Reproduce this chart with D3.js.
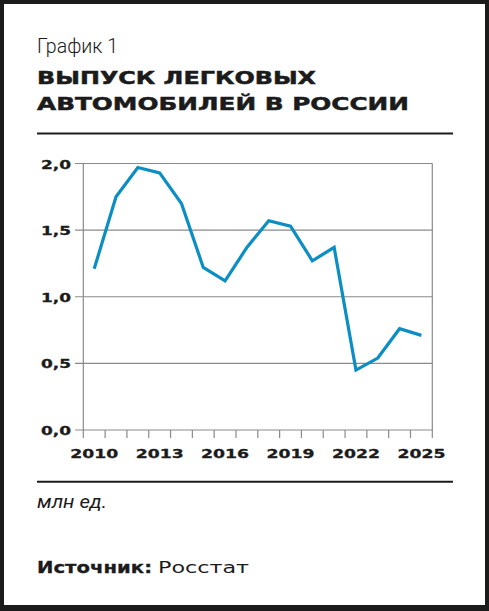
<!DOCTYPE html>
<html>
<head>
<meta charset="utf-8">
<script src="https://cdn.jsdelivr.net/npm/d3@7"></script>
<style>
  html, body { margin: 0; padding: 0; background: #1a1a1a; }
  svg { display: block; }
</style>
</head>
<body>
<script>
const years = [2010, 2011, 2012, 2013, 2014, 2015, 2016, 2017, 2018, 2019, 2020, 2021, 2022, 2023, 2024, 2025];
const production = [1.21, 1.75, 1.97, 1.93, 1.70, 1.22, 1.12, 1.37, 1.57, 1.53, 1.27, 1.37, 0.45, 0.54, 0.76, 0.71];
const yTicks = [0, 0.5, 1.0, 1.5, 2.0];
const xLabelYears = [2010, 2013, 2016, 2019, 2022, 2025];
const chartLabel = "График 1";
const titleLines = ["ВЫПУСК ЛЕГКОВЫХ", "АВТОМОБИЛЕЙ В РОССИИ"];
const unitText = "млн ед.";
const sourceLabel = "Источник:";
const sourceText = "Росстат";

const W = 489, H = 611;
const ink = "#1b1b1b";
const wide = "'DejaVu Sans', sans-serif";

const svg = d3.select("body").append("svg").attr("width", W).attr("height", H);
svg.append("rect").attr("width", W).attr("height", H).attr("fill", "#1b1b1b");
svg.append("rect").attr("x", 4).attr("y", 4).attr("width", 481).attr("height", 601).attr("fill", "#fff");

// Header
svg.append("text").attr("x", 37).attr("y", 53)
  .attr("font-family", "Roboto, sans-serif").attr("font-weight", 300).attr("font-size", 20)
  .attr("fill", ink).attr("textLength", 81).attr("lengthAdjust", "spacingAndGlyphs")
  .text(chartLabel);

const titleWidths = [279, 372];
const titleY = [83.5, 110];
titleLines.forEach((t, i) => {
  svg.append("text").attr("x", 37).attr("y", titleY[i])
    .attr("font-family", wide).attr("font-weight", "bold").attr("font-size", 18.5)
    .attr("fill", ink).attr("stroke", ink).attr("stroke-width", 0.5)
    .attr("textLength", titleWidths[i]).attr("lengthAdjust", "spacingAndGlyphs")
    .text(t);
});

svg.append("line").attr("x1", 37).attr("x2", 453).attr("y1", 133.5).attr("y2", 133.5)
  .attr("stroke", ink).attr("stroke-width", 2);

// Chart
const x = d3.scaleBand().domain(years).range([83.3, 432.3]);
const y = d3.scaleLinear().domain([0, 2]).range([430, 163.5]);
const grid = "#8a8a8a";

const g = svg.append("g");
g.selectAll(".grid").data(yTicks).join("line")
  .attr("x1", 75).attr("x2", 432.3)
  .attr("y1", d => y(d)).attr("y2", d => y(d))
  .attr("stroke", grid).attr("stroke-width", 1.2);
[83.3, 432.3].forEach(xx => {
  g.append("line").attr("x1", xx).attr("x2", xx).attr("y1", y(2)).attr("y2", y(0))
    .attr("stroke", grid).attr("stroke-width", 1.2);
});
const edges = years.map(d => x(d)).concat([x(years[years.length - 1]) + x.bandwidth()]);
g.selectAll(".xt").data(edges).join("line")
  .attr("x1", d => d).attr("x2", d => d).attr("y1", y(0)).attr("y2", y(0) + 8)
  .attr("stroke", grid).attr("stroke-width", 1.2);

g.selectAll(".yl").data(yTicks).join("text")
  .attr("x", 71).attr("y", d => y(d) + 5)
  .attr("text-anchor", "end")
  .attr("font-family", wide).attr("font-weight", "bold").attr("font-size", 12)
  .attr("fill", ink).attr("stroke", ink).attr("stroke-width", 0.3)
  .attr("textLength", 30).attr("lengthAdjust", "spacingAndGlyphs")
  .text(d => d3.format(".1f")(d).replace(".", ","));

g.selectAll(".xl").data(xLabelYears).join("text")
  .attr("x", d => x(d) + x.bandwidth() / 2 - 24).attr("y", 458.3)
  .attr("font-family", wide).attr("font-weight", "bold").attr("font-size", 12.5)
  .attr("fill", ink).attr("stroke", ink).attr("stroke-width", 0.3)
  .attr("textLength", 48).attr("lengthAdjust", "spacingAndGlyphs")
  .text(d => d);

const line = d3.line().x((d, i) => x(years[i]) + x.bandwidth() / 2).y(d => y(d));
g.append("path").datum(production).attr("d", line)
  .attr("fill", "none").attr("stroke", "#0a8ec3").attr("stroke-width", 3.2)
  .attr("stroke-linejoin", "miter").attr("stroke-linecap", "butt");

// footer
svg.append("line").attr("x1", 37).attr("x2", 453).attr("y1", 481.7).attr("y2", 481.7)
  .attr("stroke", ink).attr("stroke-width", 2);

svg.append("text").attr("x", 37).attr("y", 508.3)
  .attr("font-family", "Roboto, sans-serif").attr("font-style", "italic").attr("font-size", 18)
  .attr("fill", ink).attr("textLength", 70).attr("lengthAdjust", "spacingAndGlyphs")
  .text(unitText);

svg.append("text").attr("x", 37).attr("y", 573.3)
  .attr("font-family", wide).attr("font-weight", "bold").attr("font-size", 16)
  .attr("fill", ink).attr("stroke", ink).attr("stroke-width", 0.3)
  .attr("textLength", 115).attr("lengthAdjust", "spacingAndGlyphs")
  .text(sourceLabel);
svg.append("text").attr("x", 158).attr("y", 573.3)
  .attr("font-family", wide).attr("font-size", 16)
  .attr("fill", ink).attr("textLength", 91).attr("lengthAdjust", "spacingAndGlyphs")
  .text(sourceText);
</script>
</body>
</html>
